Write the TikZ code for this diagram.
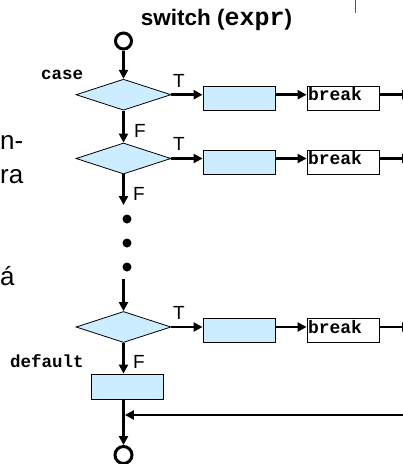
\documentclass[tikz,border=0pt]{standalone}
\usepackage{fontspec}
\setmainfont{Liberation Sans}
\newfontfamily\mono{Liberation Mono}
\usetikzlibrary{shapes.geometric,arrows.meta}
\definecolor{boxblue}{RGB}{204,236,255}
\begin{document}
\begin{tikzpicture}[x=1pt,y=-1pt,
  arr/.style={line width=2.8pt,-{Triangle[length=9pt,width=9pt]}},
  plain/.style={line width=2.8pt},
  dia/.style={diamond,draw=black,line width=0.8pt,fill=boxblue,minimum width=95pt,minimum height=31pt,inner sep=0pt,aspect=3},
  actbox/.style={rectangle,draw=black,line width=0.8pt,fill=boxblue,minimum width=72pt,minimum height=24pt,inner sep=0pt},
  brkbox/.style={rectangle,draw=black,line width=0.8pt,fill=white,minimum width=72pt,minimum height=24pt,inner sep=1pt,text width=70pt,align=left,text height=11pt,text depth=6pt,font=\mono\bfseries\fontsize{18}{20}\selectfont},
  term/.style={circle,draw=black,line width=3pt,minimum size=16pt,inner sep=0pt},
  dotnode/.style={circle,fill=black,minimum size=9pt,inner sep=0pt},
  tf/.style={anchor=base west,inner sep=0pt,font=\fontsize{19}{22}\selectfont},
  kw/.style={anchor=base west,inner sep=0pt,font=\mono\bfseries\fontsize{17.5}{20}\selectfont},
  frag/.style={anchor=base west,inner sep=0pt,font=\fontsize{26}{30}\selectfont}]
\useasboundingbox (0,0) rectangle (403,464);
\clip (0,0) rectangle (403,464);

% title
\node (title) [anchor=base,inner sep=0pt] at (216.5,25)
  {{\bfseries\fontsize{22.5}{27}\selectfont switch (}{\mono\bfseries\fontsize{25}{27}\selectfont expr}{\bfseries\fontsize{22.5}{27}\selectfont )}};

% fragments of the surrounding slide
\node (fa) [frag] at (0,149) {n-};
\node (fb) [frag] at (0,183) {ra};
\node (fc) [frag] at (0,285) {á};
\coordinate (vt) at (355.5,0);
\coordinate (vb) at (355.5,13);
\draw[gray!70!black,line width=1pt] (vt) -- (vb);

% nodes
\node (start) [term] at (123.5,41) {};
\node (d1) [dia] at (123.5,94.7) {};
\node (d2) [dia] at (123.5,158.5) {};
\node (d3) [dia] at (123.5,327) {};
\node (b1) [actbox] at (239,98.5) {};
\node (b2) [actbox] at (239,162.3) {};
\node (b3) [actbox] at (239,330.8) {};
\node (k1) [brkbox] at (343,98.3) {break};
\node (k2) [brkbox] at (343,162.1) {break};
\node (k3) [brkbox] at (343,330.6) {break};
\node (db) [actbox,minimum height=25pt] at (127,386.5) {};
\node (end) [term,minimum size=17pt] at (123.5,455) {};
\node (p1) [dotnode] at (127,219) {};
\node (p2) [dotnode] at (127,243) {};
\node (p3) [dotnode] at (127,267) {};

\coordinate (f2end) at (123.5,205);
\coordinate (f3beg) at (123.5,279);
\coordinate (o1) at (411,94.7);
\coordinate (o2) at (411,158.5);
\coordinate (o3) at (411,327);
\coordinate (ret) at (411,415);

% labels
\node (case) [kw] at (41,79) {case};
\node (dflt) [kw] at (10,367) {default};
\node (t1) [tf] at (173,87) {T};
\node (t2) [tf] at (173,150.8) {T};
\node (t3) [tf] at (173,319.3) {T};
\node (fl1) [tf] at (134,137) {F};
\node (fl2) [tf] at (133,200) {F};
\node (fl3) [tf] at (133,368) {F};

% connectors
\draw[arr] (start.south) -- (d1.north);
\draw[arr] (d1.south) -- (d2.north);
\draw[arr] (d2.south) -- (f2end);
\draw[arr] (f3beg) -- (d3.north);
\draw[arr] (d3.south) -- (d3.south |- db.north);
\draw[arr] (db.south -| d3.south) -- (end.north);

\draw[arr] (d1.east) -- (d1.east -| b1.west);
\draw[arr] (d2.east) -- (d2.east -| b2.west);
\draw[arr] (d3.east) -- (d3.east -| b3.west);
\draw[arr] (d1.east -| b1.east) -- (d1.east -| k1.west);
\draw[arr] (d2.east -| b2.east) -- (d2.east -| k2.west);
\draw[arr] (d3.east -| b3.east) -- (d3.east -| k3.west);
\draw[arr] (o1 -| k1.east) -- (o1);
\draw[arr] (o2 -| k2.east) -- (o2);
\draw[arr] (o3 -| k3.east) -- (o3);
\draw[arr] (ret) -- ([xshift=1.4pt]ret -| d3.south);
\end{tikzpicture}
\end{document}
